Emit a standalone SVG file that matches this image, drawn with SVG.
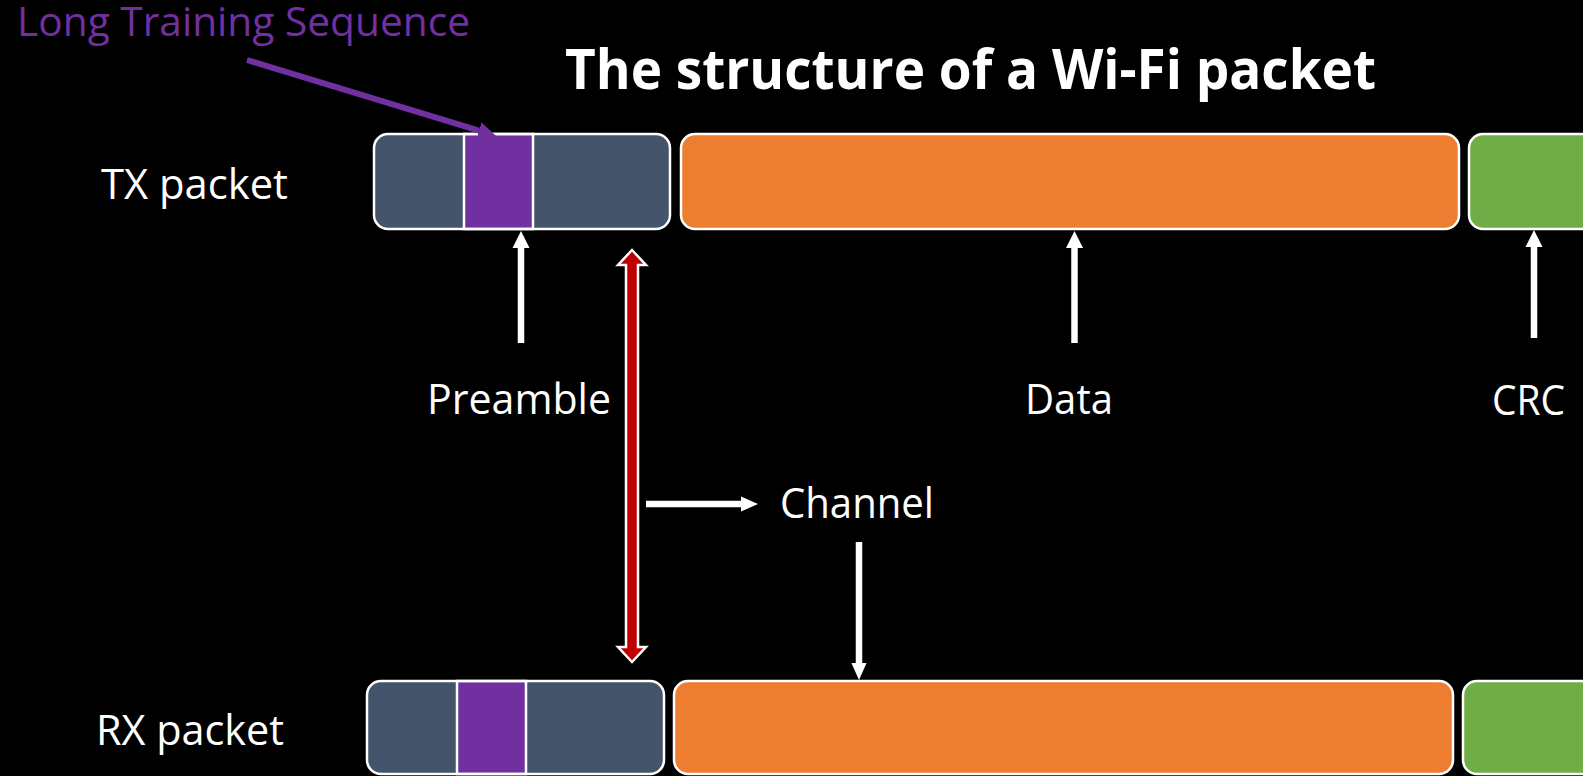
<svg xmlns="http://www.w3.org/2000/svg" width="1583" height="776" viewBox="0 0 1583 776">
<defs>
<style>
.t{font-family:"Open Sans","Liberation Sans",sans-serif;font-size:42px;fill:#ffffff}
.title{font-family:"Open Sans","Liberation Sans",sans-serif;font-size:55px;font-weight:bold;fill:#ffffff}
.lts{font-family:"Open Sans","Liberation Sans",sans-serif;font-size:41px;fill:#7030A0}
.box{stroke:#ffffff;stroke-width:2.5}
.pre{fill:#44546A}
.dat{fill:#ED7D31}
.crc{fill:#70AD47}
.lts-seg{fill:#7030A0;stroke:#ffffff;stroke-width:2.5}
.arr{stroke:#ffffff;stroke-width:6.5;fill:none}
</style>
<marker id="ahw" markerUnits="userSpaceOnUse" viewBox="0 -10 20 20" markerWidth="20" markerHeight="20" refX="0" refY="0" orient="auto">
<path d="M-1,-9 L17,0 L-1,9 z" fill="#ffffff"/>
</marker>
<marker id="ahs" markerUnits="userSpaceOnUse" viewBox="0 -10 20 20" markerWidth="20" markerHeight="20" refX="0" refY="0" orient="auto">
<path d="M-1,-8 L17,0 L-1,8 z" fill="#ffffff"/>
</marker>
<marker id="ahp" markerUnits="userSpaceOnUse" viewBox="0 -12 24 24" markerWidth="24" markerHeight="24" refX="0" refY="0" orient="auto">
<path d="M-1,-9 L18,0 L-1,9 z" fill="#7030A0"/>
</marker>
</defs>
<rect x="0" y="0" width="1583" height="776" fill="#000000"/>

<text id="title" class="title" x="565" y="89" textLength="811" lengthAdjust="spacingAndGlyphs">The structure of a Wi-Fi packet</text>
<text id="lts-label" class="lts" x="17" y="36" textLength="453" lengthAdjust="spacingAndGlyphs">Long Training Sequence</text>

<g id="tx-label"><text class="t" x="101" y="199" textLength="187" lengthAdjust="spacingAndGlyphs">TX packet</text></g>
<g id="rx-label"><text class="t" x="96" y="745" textLength="188" lengthAdjust="spacingAndGlyphs">RX packet</text></g>

<g id="tx-preamble">
<rect class="pre" x="374" y="134" width="296" height="95" rx="14"/>
<rect class="lts-seg" x="464" y="134" width="69" height="95"/>
<rect class="box" x="374" y="134" width="296" height="95" rx="14" fill="none"/>
</g>
<g id="tx-data"><rect class="box dat" x="681" y="134" width="778" height="95" rx="14"/></g>
<g id="tx-crc"><rect class="box crc" x="1469" y="134" width="200" height="95" rx="14"/></g>

<g id="rx-preamble">
<rect class="pre" x="367" y="681" width="297" height="93" rx="14"/>
<rect class="lts-seg" x="457" y="681" width="69" height="93"/>
<rect class="box" x="367" y="681" width="297" height="93" rx="14" fill="none"/>
</g>
<g id="rx-data"><rect class="box dat" x="674" y="681" width="779" height="93" rx="14"/></g>
<g id="rx-crc"><rect class="box crc" x="1463" y="681" width="200" height="93" rx="14"/></g>

<g id="preamble-label"><text class="t" x="427" y="414" textLength="184" lengthAdjust="spacingAndGlyphs">Preamble</text></g>
<g id="data-label"><text class="t" x="1025" y="414" textLength="88" lengthAdjust="spacingAndGlyphs">Data</text></g>
<g id="crc-label"><text class="t" x="1492" y="415" textLength="73" lengthAdjust="spacingAndGlyphs">CRC</text></g>
<g id="channel-label"><text class="t" x="780" y="518" textLength="154" lengthAdjust="spacingAndGlyphs">Channel</text></g>

<g id="connectors">
<line x1="247" y1="60" x2="479" y2="130.7" stroke="#7030A0" stroke-width="6" marker-end="url(#ahp)"/>
<line class="arr" x1="521" y1="343" x2="521" y2="248" marker-end="url(#ahw)"/>
<line class="arr" x1="1074.5" y1="343" x2="1074.5" y2="248" marker-end="url(#ahw)"/>
<line class="arr" x1="1534" y1="338" x2="1534" y2="247" marker-end="url(#ahw)"/>
<line class="arr" x1="646" y1="504" x2="741" y2="504" marker-end="url(#ahs)"/>
<line class="arr" x1="859" y1="542" x2="859" y2="663" marker-end="url(#ahs)"/>
<polygon points="632,250 646,265 638,265 638,647 646,647 632,662 618,647 626,647 626,265 618,265" fill="#C00000" stroke="#ffffff" stroke-width="2.5" stroke-linejoin="miter"/>
</g>
</svg>
